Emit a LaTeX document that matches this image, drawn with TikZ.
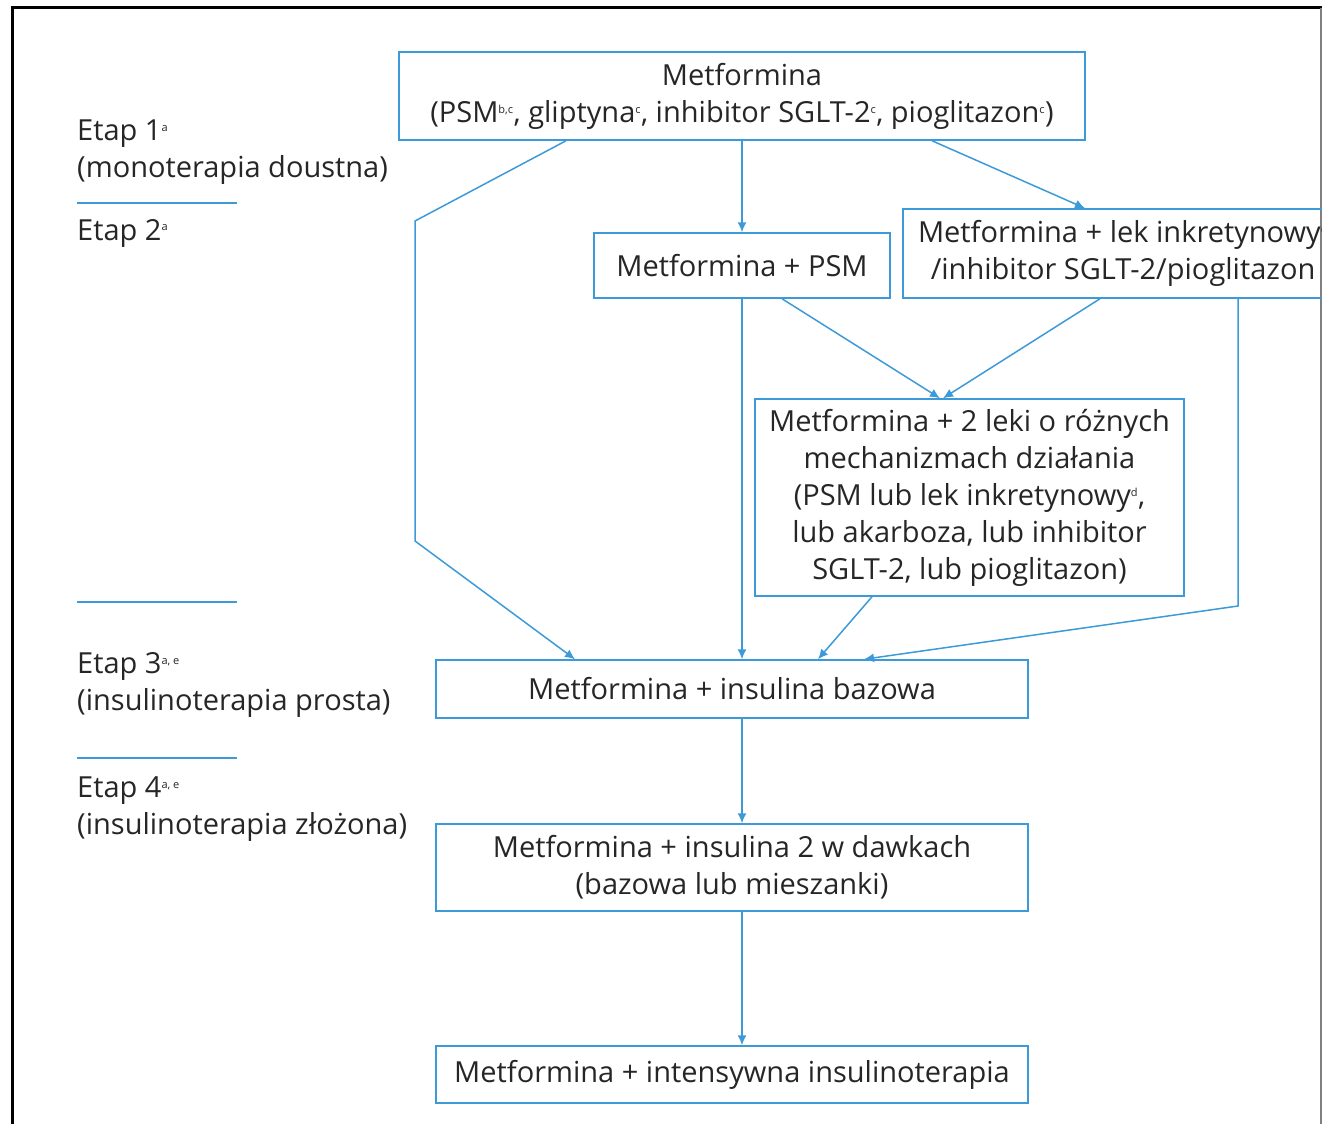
\documentclass[tikz,border=0pt]{standalone}
\usepackage{fontspec}
\setmainfont{Open Sans}
\usetikzlibrary{arrows.meta}
\definecolor{fblue}{HTML}{3D9AD8}
\definecolor{ftext}{HTML}{262626}
\newcommand\sups[1]{\textsuperscript{\fontsize{11}{11}\selectfont #1}}
\begin{document}
\begin{tikzpicture}[x=1pt,y=-1pt,
  every node/.style={text=ftext,font=\fontsize{29}{37}\selectfont},
  fbox/.style={draw=fblue,line width=1.5pt,inner sep=0pt,align=center},
  arr/.style={draw=fblue,line width=1.5pt,-{Latex[length=10pt,width=9pt]}},
  sep/.style={draw=fblue,line width=1.3pt},
  lbl/.style={anchor=west,align=left,inner sep=0pt}]
\useasboundingbox (0,0) rectangle (1322,1124);
\begin{scope}
\clip (0,0) rectangle (1322,1124);
% frame
\draw[line width=3pt,black] (12,1124) -- (12,8) -- (1322,8);
\draw[line width=1.5pt,gray] (1321,8) -- (1321,1124);
% boxes
\node[fbox,minimum width=686pt,minimum height=88pt] (top) at (742,96)
  {Metformina\\(PSM\sups{b,c}, gliptyna\sups{c}, inhibitor SGLT-2\sups{c}, pioglitazon\sups{c})};
\node[fbox,minimum width=296pt,minimum height=65pt] (psm) at (742,265.5)
  {Metformina + PSM};
\node[fbox,minimum width=440pt,minimum height=89pt] (rb) at (1123,253.5)
  {Metformina + lek inkretynowy\sups{d}\\/inhibitor SGLT-2/pioglitazon};
\node[fbox,minimum width=429pt,minimum height=197pt] (combo) at (969.5,497.5)
  {Metformina + 2 leki o różnych\\mechanizmach działania\\(PSM lub lek inkretynowy\sups{d},\\lub akarboza, lub inhibitor\\SGLT-2, lub pioglitazon)};
\node[fbox,minimum width=592pt,minimum height=58pt] (basal) at (732,689)
  {Metformina + insulina bazowa};
\node[fbox,minimum width=592pt,minimum height=87pt] (doses) at (732,867.5)
  {Metformina + insulina 2 w dawkach\\(bazowa lub mieszanki)};
\node[fbox,minimum width=592pt,minimum height=57pt] (intens) at (732,1074.5)
  {Metformina + intensywna insulinoterapia};
% stage labels
\node[lbl] (e1) at (77,152) {Etap 1\sups{a}\\(monoterapia doustna)};
\node[lbl] (e2) at (77,233) {Etap 2\sups{a}};
\node[lbl] (e3) at (77,685) {Etap 3\sups{a, e}\\(insulinoterapia prosta)};
\node[lbl] (e4) at (77,809) {Etap 4\sups{a, e}\\(insulinoterapia złożona)};
\draw[sep] (77,203) -- (237,203);
\draw[sep] (77,602) -- (237,602);
\draw[sep] (77,758) -- (237,758);
% connectors
\coordinate (l1) at (415,221);
\coordinate (l2) at (415,541);
\coordinate (r1) at (1238,606);
\draw[arr] ([xshift=-176pt]top.south) -- (l1) -- (l2) -- ([xshift=-157pt]basal.north);
\draw[arr] (top.south) -- (psm.north);
\draw[arr] ([xshift=190pt]top.south) -- ([xshift=-38pt]rb.north);
\draw[arr] ([xshift=40pt]psm.south) -- ([xshift=-29.5pt]combo.north);
\draw[arr] ([xshift=-23pt]rb.south) -- ([xshift=-26.5pt]combo.north);
\draw[arr] (psm.south) -- ([xshift=10pt]basal.north);
\draw[arr] ([xshift=-97.5pt]combo.south) -- ([xshift=86pt]basal.north);
\draw[arr] ([xshift=115pt]rb.south) -- (r1) -- ([xshift=132pt]basal.north);
\draw[arr] ([xshift=10pt]basal.south) -- ([xshift=10pt]doses.north);
\draw[arr] ([xshift=10pt]doses.south) -- ([xshift=10pt]intens.north);
\end{scope}
\end{tikzpicture}
\end{document}
